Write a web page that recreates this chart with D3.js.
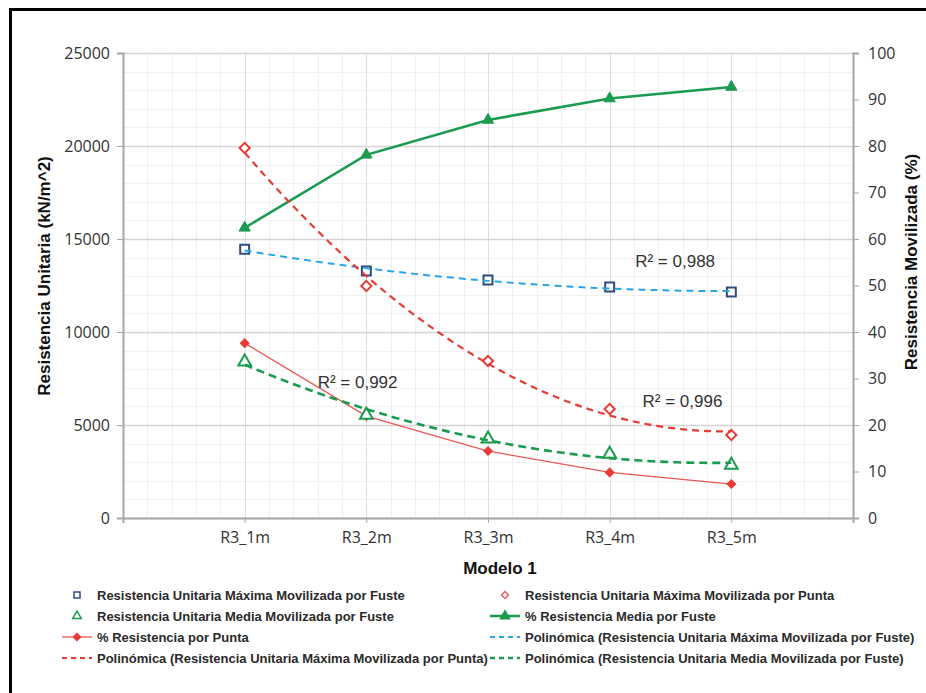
<!DOCTYPE html>
<html>
<head>
<meta charset="utf-8">
<script src="https://cdn.jsdelivr.net/npm/d3@7"></script>
<style>
  body { margin: 0; background: #fff; }
  svg { display: block; }
  .tick text { font-family: 'Open Sans', sans-serif; font-size: 16px; fill: #333; }
  .axis path, .axis line { stroke: #a6a6a6; }
  .title { font-family: 'Liberation Sans Narrow', 'Liberation Sans', sans-serif; font-weight: bold; fill: #111; }
  .legend text { font-family: 'Liberation Sans Narrow', 'Liberation Sans', sans-serif; font-weight: bold; font-size: 13px; fill: #2a2a2a; }
  .r2 { font-family: 'Liberation Sans', Arial, sans-serif; font-size: 17px; fill: #333; }
</style>
</head>
<body>
<svg width="926" height="693"></svg>
<script>
// chart values
var categories = ['R3_1m', 'R3_2m', 'R3_3m', 'R3_4m', 'R3_5m'];
var maxFuste = [14450, 13280, 12800, 12420, 12150];   // kN/m^2
var maxPunta = [19890, 12470, 8440, 5860, 4460];      // kN/m^2
var mediaFuste = [8390, 5540, 4250, 3440, 2850];      // kN/m^2
var pctMediaFuste = [62.4, 78.1, 85.6, 90.2, 92.7];   // %
var pctPunta = [37.6, 21.9, 14.4, 9.8, 7.3];          // %
var leftTicks = [0, 5000, 10000, 15000, 20000, 25000];
var rightTicks = [0, 10, 20, 30, 40, 50, 60, 70, 80, 90, 100];
var r2Labels = ['R² = 0,988', 'R² = 0,992', 'R² = 0,996'];

var svg = d3.select('svg');
var width = +svg.attr('width');
var height = +svg.attr('height');
var plot = {left: 123, right: 853, top: 53, bottom: 518};

var navy = '#2e4b7d', sky = '#2aa6e2', red = '#e63b36', green = '#1a9b4f';

// frame around the figure (only top and left show)
svg.append('path')
    .attr('d', 'M10.5,' + height + 'V9.5H' + width)
    .attr('fill', 'none')
    .attr('stroke', '#000')
    .attr('stroke-width', 3);

var xScale = d3.scaleLinear().domain([0, 6]).range([plot.left, plot.right]);
var yScale = d3.scaleLinear().domain([0, 25000]).range([plot.bottom, plot.top]);
var y2Scale = d3.scaleLinear().domain([0, 100]).range([plot.bottom, plot.top]);

// grid, minor first then major
var grid = svg.append('g').attr('class', 'grid');
grid.selectAll('.vminor')
    .data(d3.range(0, 6.01, 0.2))
    .enter().append('line')
    .attr('x1', function(d) { return Math.round(xScale(d)) + 0.5; })
    .attr('x2', function(d) { return Math.round(xScale(d)) + 0.5; })
    .attr('y1', plot.top).attr('y2', plot.bottom)
    .attr('stroke', '#f0f0f0');
grid.selectAll('.hminor')
    .data(d3.range(0, 25001, 1000))
    .enter().append('line')
    .attr('y1', function(d) { return Math.round(yScale(d)) + 0.5; })
    .attr('y2', function(d) { return Math.round(yScale(d)) + 0.5; })
    .attr('x1', plot.left).attr('x2', plot.right)
    .attr('stroke', '#f0f0f0');
grid.selectAll('.vmajor')
    .data(d3.range(0, 7))
    .enter().append('line')
    .attr('x1', function(d) { return Math.round(xScale(d)) + 0.5; })
    .attr('x2', function(d) { return Math.round(xScale(d)) + 0.5; })
    .attr('y1', plot.top).attr('y2', plot.bottom)
    .attr('stroke', '#dedede');
grid.selectAll('.hmajor')
    .data(leftTicks)
    .enter().append('line')
    .attr('y1', function(d) { return Math.round(yScale(d)) + 0.5; })
    .attr('y2', function(d) { return Math.round(yScale(d)) + 0.5; })
    .attr('x1', plot.left).attr('x2', plot.right)
    .attr('stroke', '#d4d4d4').attr('stroke-width', 1.5);

// axes
var xAxis = svg.append('g')
    .attr('class', 'axis x')
    .attr('transform', 'translate(0,' + plot.bottom + ')')
    .call(d3.axisBottom(xScale)
        .tickValues([1, 2, 3, 4, 5])
        .tickSize(5).tickPadding(9)
        .tickFormat(function(d) { return categories[d - 1]; }));
xAxis.select('.domain').attr('stroke-width', 2);

var yAxis = svg.append('g')
    .attr('class', 'axis y')
    .attr('transform', 'translate(' + plot.left + ',0)')
    .call(d3.axisLeft(yScale).tickValues(leftTicks).tickSize(6).tickPadding(7).tickFormat(d3.format('d')));
yAxis.select('.domain').attr('stroke-width', 2);

var y2Axis = svg.append('g')
    .attr('class', 'axis y2')
    .attr('transform', 'translate(' + plot.right + ',0)')
    .call(d3.axisRight(y2Scale).tickValues(rightTicks).tickSize(6).tickPadding(9));
y2Axis.select('.domain').attr('stroke-width', 2);

// axis titles
svg.append('text').attr('class', 'title')
    .attr('transform', 'translate(50,276) rotate(-90)')
    .attr('text-anchor', 'middle').style('font-size', '17px')
    .text('Resistencia Unitaria (kN/m^2)');
svg.append('text').attr('class', 'title')
    .attr('transform', 'translate(917,262) rotate(-90)')
    .attr('text-anchor', 'middle').style('font-size', '17px')
    .text('Resistencia Movilizada (%)');
svg.append('text').attr('class', 'title')
    .attr('x', 500).attr('y', 574)
    .attr('text-anchor', 'middle').style('font-size', '17px')
    .text('Modelo 1');

// least squares second order polynomial for the trend lines
function polyFit(ys) {
    var s = [0, 0, 0, 0, 0], t = [0, 0, 0];
    ys.forEach(function(y, i) {
        var x = i + 1;
        for (var k = 0; k < 5; k++) s[k] += Math.pow(x, k);
        for (var k = 0; k < 3; k++) t[k] += y * Math.pow(x, k);
    });
    var m = [[s[0], s[1], s[2]], [s[1], s[2], s[3]], [s[2], s[3], s[4]]];
    var det = function(a) {
        return a[0][0] * (a[1][1] * a[2][2] - a[1][2] * a[2][1])
             - a[0][1] * (a[1][0] * a[2][2] - a[1][2] * a[2][0])
             + a[0][2] * (a[1][0] * a[2][1] - a[1][1] * a[2][0]);
    };
    var D = det(m);
    var coef = [0, 1, 2].map(function(c) {
        var a = m.map(function(row, r) { return row.map(function(v, j) { return j === c ? t[r] : v; }); });
        return det(a) / D;
    });
    return function(x) { return coef[0] + coef[1] * x + coef[2] * x * x; };
}

var trendX = d3.range(1, 5.001, 0.05);
var trendLine = d3.line()
    .x(function(d) { return xScale(d[0]); })
    .y(function(d) { return yScale(d[1]); });

function drawTrend(values, color, widthPx, dash) {
    var f = polyFit(values);
    svg.append('path')
        .datum(trendX.map(function(x) { return [x, f(x)]; }))
        .attr('d', trendLine)
        .attr('fill', 'none')
        .attr('stroke', color)
        .attr('stroke-width', widthPx)
        .attr('stroke-dasharray', dash);
}

var chartG = svg.append('g').attr('class', 'series');

// percent lines (right axis)
var pctLine = d3.line()
    .x(function(d, i) { return xScale(i + 1); })
    .y(function(d) { return y2Scale(d); });

chartG.append('path').datum(pctPunta)
    .attr('d', pctLine).attr('fill', 'none')
    .attr('stroke', '#ea5753').attr('stroke-width', 1.3);
chartG.append('path').datum(pctMediaFuste)
    .attr('d', pctLine).attr('fill', 'none')
    .attr('stroke', green).attr('stroke-width', 2.6);

drawTrend(maxFuste, sky, 2, '7,5');
drawTrend(maxPunta, red, 2.2, '7,5');
drawTrend(mediaFuste, green, 2.6, '8,5');

// marker shapes; diamonds are squares turned 45 degrees
var shapes = {
    square: {type: d3.symbolSquare, size: 80, rot: 0},
    diamond: {type: d3.symbolSquare, size: 52, rot: 45},
    triangle: {type: d3.symbolTriangle, size: 70, rot: 0},
    smallTriangle: {type: d3.symbolTriangle, size: 55, rot: 0},
    smallDiamond: {type: d3.symbolSquare, size: 38, rot: 45}
};

function drawMarkers(values, scale, shape, fill, stroke, sw) {
    var s = shapes[shape];
    chartG.append('g').selectAll('path')
        .data(values)
        .enter().append('path')
        .attr('transform', function(d, i) {
            return 'translate(' + xScale(i + 1) + ',' + scale(d) + ') rotate(' + s.rot + ')';
        })
        .attr('d', d3.symbol().type(s.type).size(s.size)())
        .attr('fill', fill)
        .attr('stroke', stroke)
        .attr('stroke-width', sw);
}

drawMarkers(pctPunta, y2Scale, 'smallDiamond', red, red, 1);
drawMarkers(pctMediaFuste, y2Scale, 'smallTriangle', green, green, 1);
drawMarkers(maxFuste, yScale, 'square', '#fff', navy, 2);
drawMarkers(maxPunta, yScale, 'diamond', '#fff', red, 2);
drawMarkers(mediaFuste, yScale, 'triangle', '#fff', green, 2);

// R^2 labels
var r2Pos = [[4.21, 13480], [1.6, 6990], [4.27, 5970]];
svg.selectAll('.r2')
    .data(r2Labels)
    .enter().append('text')
    .attr('class', 'r2')
    .attr('x', function(d, i) { return xScale(r2Pos[i][0]); })
    .attr('y', function(d, i) { return yScale(r2Pos[i][1]); })
    .text(function(d) { return d; });

// legend
var legendItems = [
    {label: 'Resistencia Unitaria Máxima Movilizada por Fuste', marker: 'square', color: navy, fill: '#fff'},
    {label: 'Resistencia Unitaria Máxima Movilizada por Punta', marker: 'diamond', color: '#e8625e', fill: '#fff'},
    {label: 'Resistencia Unitaria Media Movilizada por Fuste', marker: 'triangle', color: green, fill: '#fff'},
    {label: '% Resistencia Media por Fuste', marker: 'smallTriangle', color: green, fill: green, line: 2.6},
    {label: '% Resistencia por Punta', marker: 'smallDiamond', color: '#ea5753', fill: red, line: 1.3},
    {label: 'Polinómica (Resistencia Unitaria Máxima Movilizada por Fuste)', color: sky, line: 2, dash: '5,4'},
    {label: 'Polinómica (Resistencia Unitaria Máxima Movilizada por Punta)', color: red, line: 2, dash: '5,4'},
    {label: 'Polinómica (Resistencia Unitaria Media Movilizada por Fuste)', color: green, line: 2.4, dash: '5,4'}
];
var colX = [77, 505], rowY = [595, 616, 637, 658];
var legendSize = {square: 36, diamond: 24, triangle: 32, smallTriangle: 36, smallDiamond: 24};

var legend = svg.append('g').attr('class', 'legend')
    .selectAll('g')
    .data(legendItems)
    .enter().append('g')
    .attr('transform', function(d, i) { return 'translate(' + colX[i % 2] + ',' + rowY[Math.floor(i / 2)] + ')'; });

legend.filter(function(d) { return d.line; })
    .append('line')
    .attr('x1', -15).attr('x2', 15)
    .attr('stroke', function(d) { return d.color; })
    .attr('stroke-width', function(d) { return d.line; })
    .attr('stroke-dasharray', function(d) { return d.dash || null; });

legend.filter(function(d) { return d.marker; })
    .append('path')
    .attr('transform', function(d) { return 'rotate(' + shapes[d.marker].rot + ')'; })
    .attr('d', function(d) {
        return d3.symbol().type(shapes[d.marker].type).size(legendSize[d.marker])();
    })
    .attr('fill', function(d) { return d.fill; })
    .attr('stroke', function(d) { return d.marker.indexOf('small') === 0 ? d.fill : d.color; })
    .attr('stroke-width', 1.5);

legend.append('text')
    .attr('x', 20)
    .attr('dy', '0.35em')
    .text(function(d) { return d.label; });
</script>
</body>
</html>
